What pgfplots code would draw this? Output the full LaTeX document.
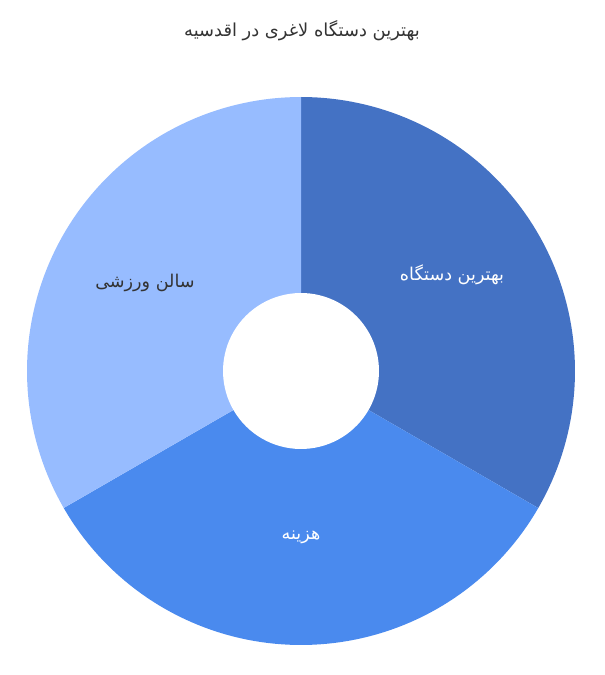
\documentclass[border=0pt]{standalone}
\usepackage{pgfplots}
\pgfplotsset{compat=1.18}
\usepackage{pgfplotstable}
\usepackage{fontspec}
\setmainfont{Liberation Sans}
\newfontfamily\arabicfont[Script=Arabic]{DejaVu Sans}
\TeXXeTstate=1
\definecolor{cA}{HTML}{4472C4}
\definecolor{cB}{HTML}{4A8AEE}
\definecolor{cC}{HTML}{97BCFF}
\definecolor{txt}{HTML}{333333}
% slice values (equal shares)
\pgfplotstableread{
idx value
0 1
1 1
2 1
}\slices
\begin{document}
\begin{tikzpicture}
\pgfplotstablegetelem{0}{value}\of\slices \let\va\pgfplotsretval
\pgfplotstablegetelem{1}{value}\of\slices \let\vb\pgfplotsretval
\pgfplotstablegetelem{2}{value}\of\slices \let\vc\pgfplotsretval
\pgfmathsetmacro\tot{\va+\vb+\vc}
\pgfmathsetmacro\aA{90}
\pgfmathsetmacro\aB{90-360*\va/\tot}
\pgfmathsetmacro\aC{\aB-360*\vb/\tot}
\pgfmathsetmacro\aD{\aC-360*\vc/\tot}
\begin{axis}[
  name=ax,
  x=0.75pt, y=0.75pt,
  xmin=-301, xmax=303, ymin=-304, ymax=371,
  hide axis, clip=false,
]
\addplot[fill=cA, draw=none, domain=\aB:\aA, samples=80, variable=\t]
  ({274*cos(t)},{274*sin(t)}) -- (axis cs:0,0) -- cycle;
\addplot[fill=cB, draw=none, domain=\aC:\aB, samples=80, variable=\t]
  ({274*cos(t)},{274*sin(t)}) -- (axis cs:0,0) -- cycle;
\addplot[fill=cC, draw=none, domain=\aD:\aC, samples=80, variable=\t]
  ({274*cos(t)},{274*sin(t)}) -- (axis cs:0,0) -- cycle;
\addplot[fill=white, draw=none, domain=0:360, samples=100, variable=\t]
  ({78*cos(t)},{78*sin(t)}) -- cycle;
\node[text=txt, font=\arabicfont\fontsize{13.4}{15}\selectfont] at (axis cs:1,340) {\beginR بهترین دستگاه لاغری در اقدسیه\endR};
\node[text=white, font=\arabicfont\fontsize{13.2}{15}\selectfont] at (axis cs:151,96) {\beginR بهترین دستگاه\endR};
\node[text=white, font=\arabicfont\fontsize{13.2}{15}\selectfont] at (axis cs:0,-166) {\beginR هزینه\endR};
\node[text=txt, font=\arabicfont\fontsize{13.2}{15}\selectfont] at (axis cs:-156,88) {\beginR سالن ورزشی\endR};
\end{axis}
\path (ax.south west) rectangle (ax.north east);
\end{tikzpicture}
\end{document}
